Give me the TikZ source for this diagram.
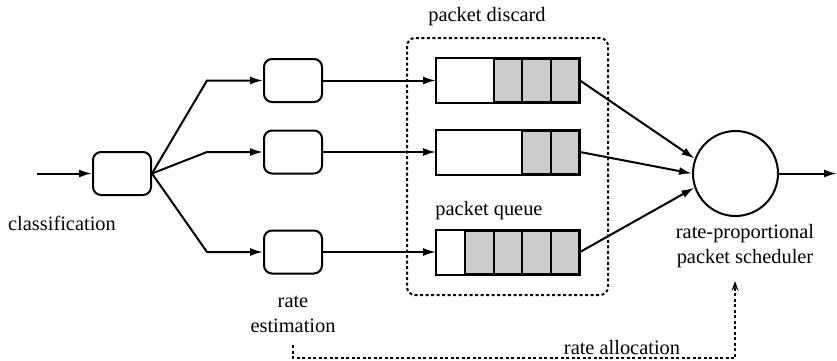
\documentclass[tikz,border=0pt]{standalone}
\usepackage{fontspec}
\setmainfont{Liberation Serif}
\usetikzlibrary{arrows.meta}
\begin{document}
\begin{tikzpicture}[x=1pt,y=-1pt,
  line width=2pt,
  every node/.style={font=\fontsize{20.4}{25}\selectfont},
  arr/.style={-{Latex[length=13pt,width=8pt]}},
  procbox/.style={draw,rounded corners=8pt,minimum width=58pt,minimum height=43pt,inner sep=0pt},
  cell/.style={draw,minimum width=28.4pt,minimum height=43pt,inner sep=0pt,anchor=west},
  full/.style={cell,fill=black!20},
  dots/.style={dash pattern=on 3pt off 2.5pt},
  lbl/.style={align=center,inner sep=0pt}]
\useasboundingbox (0,0) rectangle (837,360);

% classifier and rate estimators
\node[procbox] (cls) at (122,173.5) {};
\node[procbox] (est1) at (293,80.5) {};
\node[procbox] (est2) at (293,152) {};
\node[procbox] (est3) at (293,252) {};
\coordinate (in) at (37,173.5);
\draw[arr] (in) -- (cls);

\coordinate (b1) at (207,80.5);
\coordinate (b2) at (207,152);
\coordinate (b3) at (207,252);
\draw[arr] (cls.east) -- (b1) -- (est1.west);
\draw[arr] (cls.east) -- (b2) -- (est2.west);
\draw[arr] (cls.east) -- (b3) -- (est3.west);

% packet queues: white free slots, grey occupied slots
\foreach \q/\y/\w in {1/80.5/2, 2/152/3, 3/252/1}{
  \foreach \i in {1,...,5}{
    \pgfmathsetmacro{\xx}{436+28.4*(\i-1)}
    \ifnum\i>\w
      \node[full] (q\q c\i) at (\xx,\y) {};
    \else
      \node[cell,draw=none] (q\q c\i) at (\xx,\y) {};
    \fi
  }
  \draw (q\q c1.north west) rectangle (q\q c5.south east);
  \coordinate (q\q in) at (q\q c1.west);
  \coordinate (q\q out) at (q\q c5.east);
}
\draw[arr] (est1.east) -- (q1in);
\draw[arr] (est2.east) -- (q2in);
\draw[arr] (est3.east) -- (q3in);

% packet discard region
\draw[dots,rounded corners=8pt] (407,38) rectangle (608,295);
\node[lbl] (discard) at (487,17) {packet discard};
\node[lbl] (queue) at (489,211) {packet queue};

% scheduler
\node[draw,circle,minimum size=85pt,inner sep=0pt] (sched) at (735.5,173.5) {};
\draw[arr] (q1out) -- (sched.160);
\draw[arr] (q2out) -- (sched.180);
\draw[arr] (q3out) -- (sched.199);
\coordinate (out) at (837,173.5);
\draw[arr] (sched.east) -- (out);

% labels
\node[lbl] (clslbl) at (62,223) {classification};
\node[lbl] (estlbl) at (293,314) {rate\\estimation};
\node[lbl] (schedlbl) at (745,246) {rate-proportional\\packet scheduler};
\node[lbl] (alloclbl) at (622,348) {rate allocation};

% rate allocation feedback
\coordinate (fb0) at (293,345);
\coordinate (fb1) at (293,358);
\coordinate (fb2) at (735,358);
\coordinate (fb3) at (735,281);
\draw[dots,-{Stealth[length=10pt,width=7pt,inset=4pt]}] (fb0) -- (fb1) -- (fb2) -- (fb3);
\end{tikzpicture}
\end{document}
